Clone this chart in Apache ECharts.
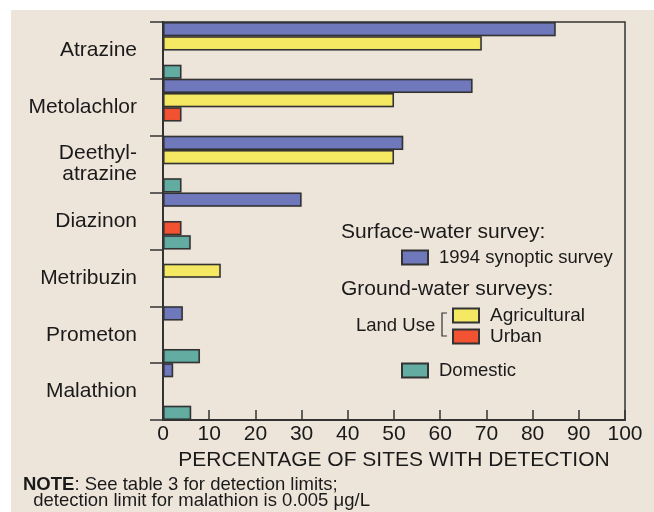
<!DOCTYPE html>
<html>
<head>
<meta charset="utf-8">
<script src="https://cdn.jsdelivr.net/npm/echarts@6/dist/echarts.min.js"></script>
<style>
  html, body { margin: 0; padding: 0; background: #fff; }
  #chart { width: 654px; height: 512px; }
</style>
</head>
<body>
<div id="chart"></div>
<script>
// pesticides, top to bottom
var compounds = ['Atrazine', 'Metolachlor', 'Deethyl-\natrazine', 'Diazinon', 'Metribuzin', 'Prometon', 'Malathion'];
// percentage of sites with detection (null = not shown)
var synoptic94 = [85, 67, 52, 30, null, 4.3, 2.2];
var agricultural = [69, 50, 50, null, 12.5, null, null];
var urban = [null, 4, null, 4, null, null, null];
var domestic = [4, null, 4, 6, null, 8, 6.1];
var xTicks = [0, 10, 20, 30, 40, 50, 60, 70, 80, 90, 100];

var FONT = '"Liberation Sans", Arial, Helvetica, sans-serif';
var INK = '#1a1a1a';
var EDGE = '#333333';

function barSeries(name, data, color) {
    return {
        name: name,
        type: 'bar',
        data: data,
        barGap: '0%',
        barCategoryGap: '0%',
        itemStyle: {
            color: color,
            borderColor: EDGE,
            borderWidth: 1.5,
            shadowColor: 'rgba(0,0,0,0.2)',
            shadowBlur: 1
        },
        emphasis: { disabled: true },
        animation: false
    };
}

function legendAt(name, left, top, size) {
    return {
        data: [name],
        left: left,
        top: top,
        padding: 0,
        itemWidth: 26,
        itemHeight: 14,
        selectedMode: false,
        icon: 'rect',
        textStyle: { fontFamily: FONT, fontSize: size, color: INK, padding: [0, 0, 0, 6] }
    };
}

var chart = echarts.init(document.getElementById('chart'));
chart.setOption({
    backgroundColor: '#ffffff',
    animation: false,
    grid: {
        left: 163, top: 22, right: 29, bottom: 92,
        show: true, borderColor: EDGE, borderWidth: 1.5, backgroundColor: 'transparent'
    },
    xAxis: {
        type: 'value',
        min: 0, max: 100, interval: 10,
        axisLine: { show: true, lineStyle: { color: EDGE, width: 2 } },
        axisTick: { show: true, inside: true, length: 10, lineStyle: { color: EDGE, width: 1.5 } },
        splitLine: { show: false },
        axisLabel: {
            fontFamily: FONT, fontSize: 21, color: INK, margin: 4,
            formatter: function (v) { return xTicks.indexOf(v) >= 0 ? String(v) : ''; }
        },
        name: 'PERCENTAGE OF SITES WITH DETECTION',
        nameLocation: 'middle',
        nameGap: 22,
        nameTextStyle: { fontFamily: FONT, fontSize: 21, color: INK }
    },
    yAxis: {
        type: 'category',
        data: compounds,
        inverse: true,
        axisLine: { show: true, lineStyle: { color: EDGE, width: 2 } },
        axisTick: { show: true, length: 13, lineStyle: { color: EDGE, width: 1.5 } },
        axisLabel: { fontFamily: FONT, fontSize: 21, color: INK, margin: 26, lineHeight: 21 }
    },
    legend: [
        legendAt('1994 synoptic survey', 401, 248, 18.5),
        legendAt('Agricultural', 452, 306, 19),
        legendAt('Urban', 452, 327, 19),
        legendAt('Domestic', 401, 361, 18.5)
    ],
    graphic: [
        { type: 'rect', silent: true, z: -100, shape: { x: 11, y: 10, width: 643, height: 502 }, style: { fill: '#ede5da' } },
        { type: 'text', left: 341, top: 222, style: { text: 'Surface-water survey:', font: '21px ' + FONT, fill: INK } },
        { type: 'text', left: 341, top: 279, style: { text: 'Ground-water surveys:', font: '21px ' + FONT, fill: INK } },
        { type: 'text', left: 356, top: 316, style: { text: 'Land Use', font: '18.5px ' + FONT, fill: INK } },
        { type: 'polyline', silent: true, shape: { points: [[447, 313], [442, 313], [442, 336], [447, 336]] }, style: { stroke: EDGE, lineWidth: 1.2, fill: null } },
        {
            type: 'text', left: 23, top: 475,
            style: {
                text: '{b|NOTE}: See table 3 for detection limits;\n  detection limit for malathion is 0.005 \u03bcg/L',
                font: '18.5px ' + FONT, fill: INK, lineHeight: 16,
                rich: { b: { fontWeight: 'bold', fontSize: 18.5, fontFamily: FONT, fill: INK } }
            }
        }
    ],
    series: [
        barSeries('1994 synoptic survey', synoptic94, '#6e78bb'),
        barSeries('Agricultural', agricultural, '#f5e964'),
        barSeries('Urban', urban, '#f05232'),
        barSeries('Domestic', domestic, '#62aca2')
    ]
});
</script>
</body>
</html>
